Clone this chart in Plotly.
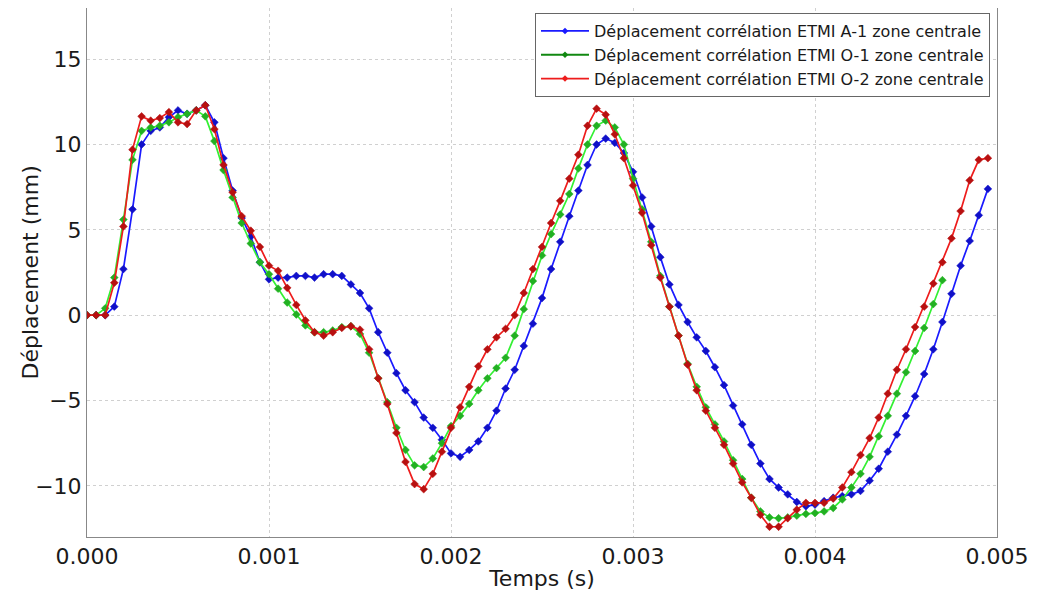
import plotly.graph_objects as go

step = 5e-5
blue_vals = [0, 0, 0, 0.5, 2.7, 6.2, 10.0, 10.8, 11.0, 11.6,
             12.0, 11.8, 12.0, 12.3, 11.3, 9.2, 7.3, 5.7, 4.6, 3.1,
             2.1, 2.2, 2.2, 2.3, 2.3, 2.2, 2.4, 2.4, 2.3, 1.8,
             1.3, 0.4, -1.0, -2.2, -3.4, -4.4, -5.1, -6.0, -6.6, -7.3,
             -8.1, -8.3, -7.9, -7.4, -6.6, -5.6, -4.3, -3.2, -1.8, -0.5,
             1.0, 2.7, 4.3, 5.8, 7.3, 8.8, 10.0, 10.35, 10.1, 9.5,
             8.4, 6.9, 5.2, 3.4, 1.8, 0.6, -0.4, -1.3, -2.1, -3.05,
             -4.1, -5.3, -6.4, -7.6, -8.7, -9.6, -10.1, -10.5, -10.95, -11.2,
             -11.1, -10.9, -10.7, -10.6, -10.5, -10.3, -9.7, -9.0, -8.0, -7.0,
             -5.9, -4.75, -3.45, -2.0, -0.4, 1.25, 2.9, 4.35, 5.85, 7.4]

green_vals = [0, 0, 0.4, 2.2, 5.6, 9.1, 10.8, 11.0, 11.1, 11.3,
              11.6, 11.8, 12.0, 11.65, 10.2, 8.5, 6.9, 5.4, 4.2, 3.1,
              2.4, 1.55, 0.74, 0.04, -0.6, -1.0, -1.0, -0.9, -0.7, -0.65,
              -1.1, -2.2, -3.7, -5.1, -6.6, -7.9, -8.8, -8.9, -8.4, -7.5,
              -6.5, -5.9, -5.2, -4.4, -3.7, -3.1, -2.5, -1.2, 0.35, 2.0,
              3.5, 4.75, 5.9, 7.1, 8.6, 10.0, 11.1, 11.4, 11.0, 10.0,
              8.0, 6.2, 4.3, 2.3, 0.5, -1.2, -2.85, -4.2, -5.4, -6.4,
              -7.4, -8.5, -9.6, -10.7, -11.5, -11.85, -11.9, -11.85, -11.75, -11.65,
              -11.6, -11.5, -11.3, -10.8, -10.1, -9.3, -8.3, -7.1, -5.9, -4.6,
              -3.35, -2.1, -0.75, 0.65, 2.05]

red_vals = [0, 0, 0, 1.9, 5.2, 9.7, 11.65, 11.4, 11.55, 11.9,
            11.3, 11.2, 12.0, 12.3, 10.9, 8.8, 7.2, 5.8, 4.95, 4.0,
            2.9, 2.6, 1.6, 0.6, -0.3, -1.0, -1.2, -1.0, -0.75, -0.65,
            -0.85, -2.0, -3.7, -5.2, -6.9, -8.6, -9.9, -10.2, -9.3, -8.0,
            -6.6, -5.4, -4.2, -3.0, -2.0, -1.3, -0.8, 0.0, 1.3, 2.7,
            4.0, 5.4, 6.7, 8.0, 9.4, 11.1, 12.1, 11.75, 10.6, 9.2,
            7.6, 6.0, 4.1, 2.2, 0.5, -1.2, -2.9, -4.4, -5.6, -6.6,
            -7.6, -8.7, -9.8, -10.7, -11.7, -12.4, -12.4, -11.9, -11.4, -11.0,
            -11.0, -11.0, -10.75, -10.1, -9.2, -8.2, -7.2, -6.0, -4.6, -3.2,
            -2.0, -0.7, 0.5, 1.85, 3.1, 4.5, 6.1, 7.9, 9.1, 9.2]

names = ["Déplacement corrélation ETMI A-1 zone centrale",
         "Déplacement corrélation ETMI O-1 zone centrale",
         "Déplacement corrélation ETMI O-2 zone centrale"]
series = [blue_vals, green_vals, red_vals]
line_colors = ["#1a1aff", "#33f033", "#ee1c1c"]
marker_colors = ["#1010c8", "#22b022", "#b81010"]
legend_colors = ["#1a1aff", "#118811", "#ee1c1c"]

y_ticks = [-10, -5, 0, 5, 10, 15]
x_ticks = [0.000, 0.001, 0.002, 0.003, 0.004, 0.005]

fig = go.Figure()
for vals, lc, mc in zip(series, line_colors, marker_colors):
    t = [round(k * step, 6) for k in range(len(vals))]
    fig.add_trace(go.Scatter(
        x=t, y=vals, mode="lines+markers", showlegend=False,
        line=dict(color=lc, width=1.7),
        marker=dict(symbol="diamond", size=6, color=mc,
                    line=dict(color=mc, width=0.5)),
    ))
for name, lc in zip(names, legend_colors):
    fig.add_trace(go.Scatter(
        x=[None], y=[None], mode="lines+markers", name=name,
        line=dict(color=lc, width=1.8),
        marker=dict(symbol="diamond", size=5, color=lc),
    ))

font_family = "DejaVu Sans, Bitstream Vera Sans, sans-serif"
fig.update_layout(
    width=1030, height=591,
    margin=dict(l=79, r=41, t=0, b=62),
    paper_bgcolor="white", plot_bgcolor="white",
    font=dict(family=font_family, color="#1a1a1a"),
    showlegend=True,
    legend=dict(x=0.9923, y=0.9905, xanchor="right", yanchor="top",
                bordercolor="#666666", borderwidth=1, bgcolor="white",
                font=dict(size=16, family=font_family),
                itemwidth=48, tracegroupgap=0),
    annotations=[dict(text="Déplacement (mm)", textangle=-90,
                      xref="paper", yref="paper", x=0, y=0.5,
                      xanchor="center", yanchor="middle", xshift=-57,
                      showarrow=False, font=dict(size=22, family=font_family))],
)
fig.update_xaxes(
    range=[0, 0.005], tickvals=x_ticks, tickformat=".3f", automargin=False,
    tickfont=dict(size=22), title=dict(text="Temps (s)", font=dict(size=22), standoff=2),
    showgrid=True, gridcolor="#d0d0d0", griddash="dot", gridwidth=1,
    showline=True, mirror=True, linecolor="#888888", linewidth=1,
    zeroline=False, ticks="",
)
fig.update_yaxes(
    range=[-13, 18], tickvals=y_ticks, automargin=False,
    tickfont=dict(size=22),
    showgrid=True, gridcolor="#d0d0d0", griddash="dot", gridwidth=1,
    showline=True, mirror=True, linecolor="#888888", linewidth=1,
    zeroline=False, ticks="",
)
fig.write_html("out.html")
